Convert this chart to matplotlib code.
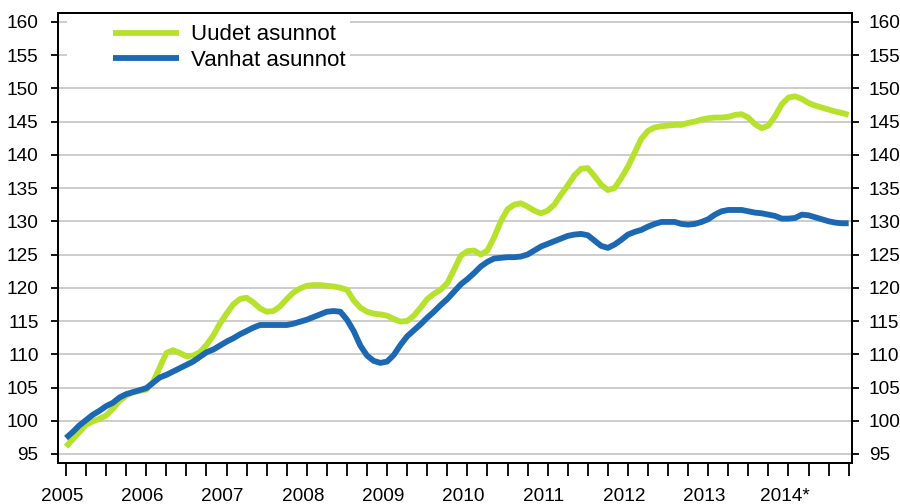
import matplotlib
matplotlib.use("Agg")
import matplotlib.pyplot as plt
import matplotlib.transforms as mtransforms
from matplotlib.patches import Rectangle
import numpy as np

# Monthly index values, Jan 2005 .. Oct 2014
uudet = [96.1, 97.2, 98.3, 99.4, 99.9, 100.3, 100.8, 101.8, 103.0, 103.8, 104.3, 104.5,
         104.7, 105.8, 108.0, 110.2, 110.6, 110.2, 109.7, 109.8, 110.3, 111.4, 112.8, 114.6,
         116.1, 117.5, 118.3, 118.5, 117.8, 116.9, 116.4, 116.5, 117.2, 118.3, 119.3, 119.9,
         120.3, 120.4, 120.4, 120.3, 120.2, 120.0, 119.7, 118.1, 117.0, 116.4, 116.1, 116.0,
         115.8, 115.3, 114.9, 115.0, 115.8, 117.0, 118.3, 119.1, 119.7, 120.7, 122.7, 124.8,
         125.5, 125.6, 125.0, 125.6, 127.6, 130.0, 131.8, 132.5, 132.7, 132.2, 131.6, 131.2,
         131.6, 132.5, 134.0, 135.4, 136.9, 137.9, 138.0, 136.8, 135.5, 134.7, 135.0, 136.5,
         138.2, 140.3, 142.4, 143.6, 144.1, 144.3, 144.4, 144.5, 144.5, 144.8, 145.0, 145.3,
         145.5, 145.6, 145.6, 145.7, 146.0, 146.1, 145.6, 144.6, 144.0, 144.4, 145.8, 147.6,
         148.6, 148.8, 148.4, 147.8, 147.4, 147.1, 146.8, 146.5, 146.3, 146.0]
vanhat = [97.4, 98.3, 99.3, 100.1, 100.9, 101.5, 102.2, 102.7, 103.5, 104.0, 104.3, 104.6,
          104.9, 105.7, 106.5, 106.9, 107.4, 107.9, 108.4, 108.9, 109.6, 110.3, 110.7, 111.3,
          111.9, 112.4, 113.0, 113.5, 114.0, 114.4, 114.4, 114.4, 114.4, 114.4, 114.6, 114.9,
          115.2, 115.6, 116.0, 116.4, 116.5, 116.4, 115.2, 113.5, 111.3, 109.8, 109.0, 108.7,
          108.9, 109.9, 111.4, 112.7, 113.6, 114.5, 115.5, 116.4, 117.4, 118.3, 119.4, 120.5,
          121.3, 122.2, 123.2, 123.9, 124.4, 124.5, 124.6, 124.6, 124.7, 125.0, 125.6, 126.2,
          126.6, 127.0, 127.4, 127.8, 128.0, 128.1, 127.9, 127.1, 126.3, 126.0, 126.5, 127.2,
          128.0, 128.4, 128.7, 129.2, 129.6, 129.9, 129.9, 129.9, 129.6, 129.5, 129.6, 129.9,
          130.3, 131.0, 131.5, 131.7, 131.7, 131.7, 131.5, 131.3, 131.2, 131.0, 130.8, 130.4,
          130.4, 130.5, 131.0, 130.9, 130.6, 130.3, 130.0, 129.8, 129.7, 129.7]
year_labels = ["2005", "2006", "2007", "2008", "2009", "2010", "2011", "2012", "2013", "2014*"]
series_labels = ["Uudet asunnot", "Vanhat asunnot"]
yticks = list(range(95, 161, 5))

GREEN = "#b6e22e"
BLUE = "#1d68b2"

plt.rcParams['font.family'] = ['Liberation Sans', 'DejaVu Sans']

W, H = 900, 504
fig = plt.figure(figsize=(9, 5.04), dpi=100)
ax = fig.add_axes([58/W, 1 - 463.3/H, (852-58)/W, (463.3-12.7)/H])

x = np.arange(len(uudet))
ax.plot(x, uudet, color=GREEN, lw=4.2, label=series_labels[0], zorder=3, solid_capstyle='butt')
ax.plot(x, vanhat, color=BLUE, lw=4.2, label=series_labels[1], zorder=4, solid_capstyle='butt')

ax.set_xlim(-1.2, 117.5)
ax.set_ylim(93.6, 161.37)
ax.set_yticks(yticks)
ax.yaxis.grid(True, color="#c8c8c8", lw=1.3)
ax.set_axisbelow(True)

# white area behind the legend that hides the top gridlines
ax.add_patch(Rectangle((67/W, 1 - 72/H), (350-67)/W, (72-13.5)/H, transform=fig.transFigure,
                       facecolor='white', edgecolor='none', zorder=2, clip_on=False))

# x ticks every quarter, labels at year starts
qt = np.arange(0, len(uudet), 3)
ax.set_xticks(qt)
ax.set_xticklabels([year_labels[i // 12] if i % 12 == 0 else "" for i in qt])
ax.tick_params(axis='x', direction='out', length=9, width=1.3, pad=9, labelsize=13.7, colors='black')
offset = mtransforms.ScaledTranslation(-4/100, 0, fig.dpi_scale_trans)
for lab in ax.get_xticklabels():
    lab.set_transform(lab.get_transform() + offset)
ax.tick_params(axis='y', direction='out', length=5, width=1.3, pad=9, labelsize=13.7)

ax2 = ax.twinx()
ax2.set_ylim(ax.get_ylim())
ax2.set_yticks(yticks)
ax2.tick_params(axis='y', direction='out', length=5, width=1.3, pad=7, labelsize=13.7)

for a in (ax, ax2):
    for s in a.spines.values():
        s.set_linewidth(1.3)
        s.set_color('black')

leg = ax.legend(loc='upper left', bbox_to_anchor=(105/W, 1 - 16.7/H), bbox_transform=fig.transFigure,
                frameon=False, fontsize=16, handlelength=3.0, handletextpad=0.54,
                labelspacing=0.2, borderpad=0.35, borderaxespad=0)
for line in leg.get_lines():
    line.set_linewidth(4.2)
leg.set_zorder(10)

fig.savefig("out.png", dpi=100)
